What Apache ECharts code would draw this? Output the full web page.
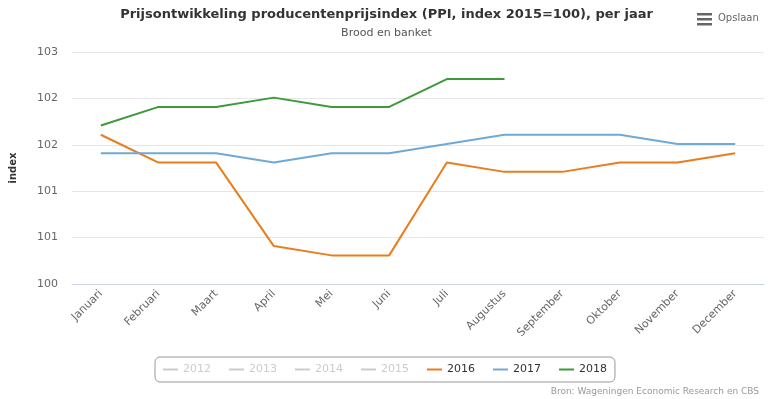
<!DOCTYPE html>
<html>
<head>
<meta charset="utf-8">
<script src="https://cdn.jsdelivr.net/npm/echarts@6/dist/echarts.min.js"></script>
<style>
    html, body { margin: 0; padding: 0; background: #fff; }
    #chart { width: 773px; height: 399px; }
</style>
</head>
<body>
<div id="chart"></div>
<script>
// maanden op de x-as
var maanden = ['Januari', 'Februari', 'Maart', 'April', 'Mei', 'Juni', 'Juli',
    'Augustus', 'September', 'Oktober', 'November', 'December'];

// jaren in de legenda, 2012 t/m 2015 staan uit
var jaren = ['2012', '2013', '2014', '2015', '2016', '2017', '2018'];
var kleuren = ['#cccccc', '#cccccc', '#cccccc', '#cccccc', '#e87d1e', '#6fa9d6', '#3d9a3a'];

var data2016 = [101.93, 101.57, 101.57, 100.49, 100.37, 100.37, 101.57, 101.45, 101.45, 101.57, 101.57, 101.69];
var data2017 = [101.69, 101.69, 101.69, 101.57, 101.69, 101.69, 101.81, 101.93, 101.93, 101.93, 101.81, 101.81];
var data2018 = [102.05, 102.29, 102.29, 102.41, 102.29, 102.29, 102.65, 102.65];

var reeksData = {
    '2012': [], '2013': [], '2014': [], '2015': [],
    '2016': data2016, '2017': data2017, '2018': data2018
};

var font = '"DejaVu Sans", Verdana, sans-serif';

var series = [];
for (var i = 0; i < jaren.length; i++) {
    series.push({
        name: jaren[i],
        type: 'line',
        data: reeksData[jaren[i]],
        symbol: 'none',
        lineStyle: { width: 2, color: kleuren[i] },
        itemStyle: { color: kleuren[i] },
        animation: false
    });
}

var selected = {};
for (var j = 0; j < jaren.length; j++) {
    selected[jaren[j]] = parseInt(jaren[j]) >= 2016;
}

var myChart = echarts.init(document.getElementById('chart'));
myChart.setOption({
    animation: false,
    title: [{
        text: 'Prijsontwikkeling producentenprijsindex (PPI, index 2015=100), per jaar',
        left: 'center',
        top: 3,
        textStyle: { fontFamily: font, fontSize: 13, fontWeight: 'bold', color: '#333' }
    }, {
        text: 'Brood en banket',
        left: 'center',
        top: 23,
        textStyle: { fontFamily: font, fontSize: 11, fontWeight: 'normal', color: '#555' }
    }, {
        text: 'Bron: Wageningen Economic Research en CBS',
        right: 9,
        top: 382,
        textStyle: { fontFamily: font, fontSize: 9, fontWeight: 'normal', color: '#999' }
    }],
    graphic: [
        { type: 'rect', shape: { x: 697, y: 13, width: 15, height: 2.5 }, style: { fill: '#666' } },
        { type: 'rect', shape: { x: 697, y: 18, width: 15, height: 2.5 }, style: { fill: '#666' } },
        { type: 'rect', shape: { x: 697, y: 23, width: 15, height: 2.5 }, style: { fill: '#666' } },
        { type: 'text', x: 718, y: 13, style: { text: 'Opslaan', fill: '#666', font: '10px ' + font } }
    ],
    legend: {
        data: jaren,
        selected: selected,
        left: 155,
        top: 357,
        width: 600,
        padding: [7, 8, 7, 8],
        itemGap: 18,
        itemWidth: 15,
        itemHeight: 2,
        icon: 'rect',
        borderColor: '#999',
        borderWidth: 1,
        borderRadius: 5,
        inactiveColor: '#cccccc',
        textStyle: { fontFamily: font, fontSize: 11, color: '#333' }
    },
    grid: { left: 72, right: 9, top: 52, bottom: 115, containLabel: false },
    xAxis: {
        type: 'category',
        data: maanden,
        boundaryGap: true,
        axisLine: { lineStyle: { color: '#ccd6eb' } },
        axisTick: { length: 10, lineStyle: { color: '#ccd6eb' } },
        axisLabel: { rotate: 45, interval: 0, margin: 8, color: '#666', fontFamily: font, fontSize: 11 }
    },
    yAxis: {
        type: 'value',
        min: 100,
        max: 103,
        interval: 0.6,
        name: 'index',
        nameLocation: 'middle',
        nameGap: 54,
        nameRotate: 90,
        nameTextStyle: { fontFamily: font, fontSize: 10, fontWeight: 'bold', color: '#333' },
        axisLine: { show: false },
        axisTick: { show: false },
        axisLabel: {
            color: '#666', fontFamily: font, fontSize: 11, margin: 14,
            formatter: function (v) { return Math.round(v); }
        },
        splitLine: { lineStyle: { color: '#e6e6e6' } }
    },
    series: series
});
</script>
</body>
</html>
